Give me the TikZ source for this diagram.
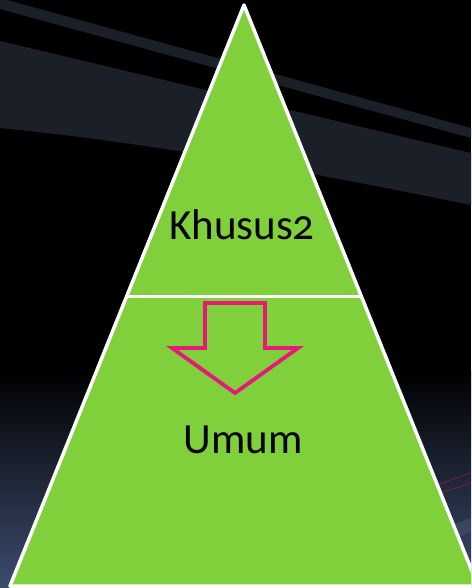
\documentclass[tikz,border=0pt]{standalone}
\usepackage{fontspec}
\setmainfont{Carlito}[Numbers=OldStyle]
\usetikzlibrary{calc}

\definecolor{leafgreen}{RGB}{128,208,60}
\definecolor{bandgray}{RGB}{26,31,40}
\definecolor{deepblue}{RGB}{60,76,110}
\definecolor{arrowpink}{RGB}{232,24,122}

\begin{document}
\begin{tikzpicture}[x=1pt, y=-1pt,
    band/.style={fill=bandgray, draw=none},
    level/.style={font=\fontsize{43}{48}\selectfont, text=black, inner sep=0pt},
    edge/.style={draw=white, line width=3.5pt, line join=round}]
    \useasboundingbox (0,0) rectangle (471,588);
    \clip (0,0) rectangle (471,588);

    % slide background
    \fill[black] (0,0) rectangle (471,588);
    \shade[top color=black, bottom color=deepblue] (0,370) rectangle (471,588);
    \fill[band] (0,-2) -- (471,128) -- (471,138) -- (0,9) -- cycle;
    \fill[band] (0,41) -- (471,153) -- (471,205) .. controls (250,160) and (120,140) .. (0,128) -- cycle;
    \fill[white, opacity=0.08] (380,552) -- (471,518) -- (471,532) -- (380,568) -- cycle;
    \draw[arrowpink!70!black, line width=0.6pt] (430,487) -- (471,473);
    \draw[arrowpink!70!black, line width=0.6pt] (430,497) -- (471,483);

    % the pyramid
    \coordinate (top) at (244,5);
    \coordinate (bl) at (10,586);
    \coordinate (br) at (478,586);
    \coordinate (ml) at ($(top)!0.5017!(bl)$);
    \coordinate (mr) at ($(top)!0.5017!(br)$);
    \fill[leafgreen] (top) -- (bl) -- (br) -- cycle;
    \draw[edge] (top) -- (bl) -- (br) -- cycle;
    \draw[edge] (ml) -- (mr);

    \node[level] (khusus) at (242,225) {Khusus2};
    \node[level] (umum) at (243,440) {Umum};

    % downward arrow, outline only
    \draw[arrowpink, line width=3.8pt, line join=miter]
        (205,303) -- (265,303) -- (265,348) -- (298,348) -- (235,393)
        -- (172,348) -- (205,348) -- cycle;
\end{tikzpicture}
\end{document}
